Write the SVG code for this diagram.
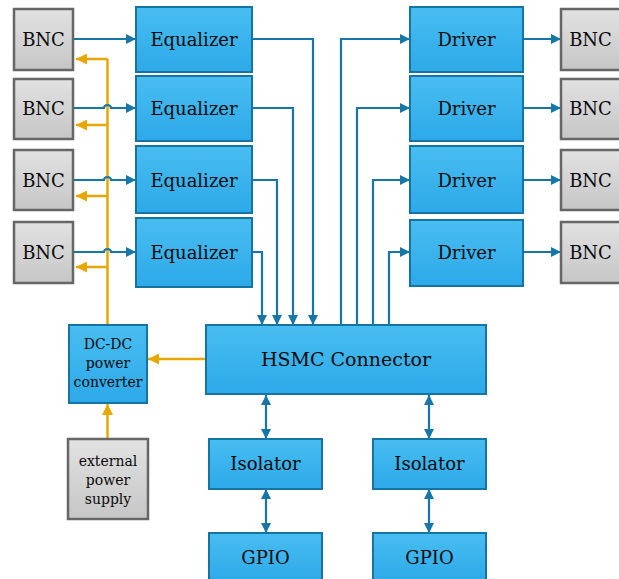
<svg xmlns="http://www.w3.org/2000/svg" width="619" height="579" viewBox="0 0 619 579">
<defs>
<linearGradient id="gb" x1="0" y1="0" x2="0" y2="1"><stop offset="0" stop-color="#48bdf0"/><stop offset="1" stop-color="#2da9e9"/></linearGradient>
<linearGradient id="gg" x1="0" y1="0" x2="0" y2="1"><stop offset="0" stop-color="#e2e2e2"/><stop offset="1" stop-color="#c6c6c6"/></linearGradient>
<marker id="ab" viewBox="0 0 10 10" refX="10" refY="5" markerWidth="13" markerHeight="10" markerUnits="userSpaceOnUse" orient="auto-start-reverse"><path d="M0,0 L10,5 L0,10 Z" fill="#1676a6"/></marker>
<marker id="ao" viewBox="0 0 10 10" refX="10" refY="5" markerWidth="13" markerHeight="11" markerUnits="userSpaceOnUse" orient="auto"><path d="M0,0 L10,5 L0,10 Z" fill="#e8a600"/></marker>
<style>
.b{fill:url(#gb);stroke:#1674a2;stroke-width:2}
.g{fill:url(#gg);stroke:#666;stroke-width:2.5}
.t{font-family:"DejaVu Serif","Liberation Serif",serif;font-size:18px;fill:#0a0a0a;text-anchor:middle;dominant-baseline:central}
.s{font-family:"DejaVu Serif","Liberation Serif",serif;font-size:14px;fill:#0a0a0a;text-anchor:middle;dominant-baseline:central}
.cb{fill:none;stroke:#1676a6;stroke-width:2.2}
.co{fill:none;stroke:#e8a600;stroke-width:2.5}
</style>
</defs>
<g id="connectors">
<path class="co" d="M107.5 325 V59"/>
<path class="co" d="M107.5 59 H76" marker-end="url(#ao)"/>
<path class="co" d="M107.5 125 H76" marker-end="url(#ao)"/>
<path class="co" d="M107.5 196 H76" marker-end="url(#ao)"/>
<path class="co" d="M107.5 267 H76" marker-end="url(#ao)"/>
<path class="co" d="M206 359 H148" marker-end="url(#ao)"/>
<path class="co" d="M107.5 439 V404" marker-end="url(#ao)"/>
<path class="cb" d="M74 39 H136" marker-end="url(#ab)"/>
<path class="cb" d="M74 108 H104 a3.5 3 0 0 1 7 0 H136" marker-end="url(#ab)"/>
<path class="cb" d="M74 180 H104 a3.5 3 0 0 1 7 0 H136" marker-end="url(#ab)"/>
<path class="cb" d="M74 252 H104 a3.5 3 0 0 1 7 0 H136" marker-end="url(#ab)"/>
<path class="cb" d="M252 39 H313 V325" marker-end="url(#ab)"/>
<path class="cb" d="M252 108 H293 V325" marker-end="url(#ab)"/>
<path class="cb" d="M252 180 H277 V325" marker-end="url(#ab)"/>
<path class="cb" d="M252 252 H262 V325" marker-end="url(#ab)"/>
<path class="cb" d="M341 325 V39 H410" marker-end="url(#ab)"/>
<path class="cb" d="M357 325 V108 H410" marker-end="url(#ab)"/>
<path class="cb" d="M373 325 V180 H410" marker-end="url(#ab)"/>
<path class="cb" d="M389 325 V252 H410" marker-end="url(#ab)"/>
<path class="cb" d="M523 39 H561" marker-end="url(#ab)"/>
<path class="cb" d="M523 108 H561" marker-end="url(#ab)"/>
<path class="cb" d="M523 180 H561" marker-end="url(#ab)"/>
<path class="cb" d="M523 252 H561" marker-end="url(#ab)"/>
<path class="cb" d="M266 395 V439" marker-start="url(#ab)" marker-end="url(#ab)"/>
<path class="cb" d="M266 489 V533" marker-start="url(#ab)" marker-end="url(#ab)"/>
<path class="cb" d="M429 395 V439" marker-start="url(#ab)" marker-end="url(#ab)"/>
<path class="cb" d="M429 489 V533" marker-start="url(#ab)" marker-end="url(#ab)"/>
</g>
<g id="bnc-l1"><rect class="g" x="14" y="9" width="59" height="61"/><text class="t" x="43.5" y="39.5">BNC</text></g>
<g id="bnc-l2"><rect class="g" x="14" y="79" width="59" height="60"/><text class="t" x="43.5" y="108.5">BNC</text></g>
<g id="bnc-l3"><rect class="g" x="14" y="150" width="59" height="60"/><text class="t" x="43.5" y="180">BNC</text></g>
<g id="bnc-l4"><rect class="g" x="14" y="222" width="59" height="61"/><text class="t" x="43.5" y="252">BNC</text></g>
<g id="eq1"><rect class="b" x="136" y="7" width="116" height="65"/><text class="t" x="194" y="39.5">Equalizer</text></g>
<g id="eq2"><rect class="b" x="136" y="76" width="116" height="65"/><text class="t" x="194" y="108.5">Equalizer</text></g>
<g id="eq3"><rect class="b" x="136" y="146" width="116" height="67"/><text class="t" x="194" y="180">Equalizer</text></g>
<g id="eq4"><rect class="b" x="136" y="218" width="116" height="69"/><text class="t" x="194" y="252">Equalizer</text></g>
<g id="drv1"><rect class="b" x="410" y="7" width="113" height="65"/><text class="t" x="466.5" y="39.5">Driver</text></g>
<g id="drv2"><rect class="b" x="410" y="76" width="113" height="65"/><text class="t" x="466.5" y="108.5">Driver</text></g>
<g id="drv3"><rect class="b" x="410" y="146" width="113" height="67"/><text class="t" x="466.5" y="180">Driver</text></g>
<g id="drv4"><rect class="b" x="410" y="220" width="113" height="66"/><text class="t" x="466.5" y="252">Driver</text></g>
<g id="bnc-r1"><rect class="g" x="561" y="9" width="60" height="61"/><text class="t" x="590.5" y="39.5">BNC</text></g>
<g id="bnc-r2"><rect class="g" x="561" y="79" width="60" height="60"/><text class="t" x="590.5" y="108.5">BNC</text></g>
<g id="bnc-r3"><rect class="g" x="561" y="150" width="60" height="60"/><text class="t" x="590.5" y="180">BNC</text></g>
<g id="bnc-r4"><rect class="g" x="561" y="222" width="60" height="61"/><text class="t" x="590.5" y="252">BNC</text></g>
<g id="hsmc"><rect class="b" x="206" y="325" width="280" height="69"/><text class="t" x="346" y="359" style="font-size:19px">HSMC Connector</text></g>
<g id="dcdc"><rect class="b" x="69" y="325" width="78" height="78"/><text class="s" x="108" y="344">DC-DC</text><text class="s" x="108" y="363">power</text><text class="s" x="108" y="382">converter</text></g>
<g id="ext"><rect class="g" x="68" y="439" width="80" height="80"/><text class="s" x="108" y="461">external</text><text class="s" x="108" y="480">power</text><text class="s" x="108" y="499">supply</text></g>
<g id="iso1"><rect class="b" x="209" y="439" width="113" height="50"/><text class="t" x="265.5" y="463.5">Isolator</text></g>
<g id="iso2"><rect class="b" x="373" y="439" width="113" height="50"/><text class="t" x="429.5" y="463.5">Isolator</text></g>
<g id="gpio1"><rect class="b" x="209" y="533" width="113" height="50"/><text class="t" x="265.5" y="557">GPIO</text></g>
<g id="gpio2"><rect class="b" x="373" y="533" width="113" height="50"/><text class="t" x="429.5" y="557">GPIO</text></g>
</svg>
